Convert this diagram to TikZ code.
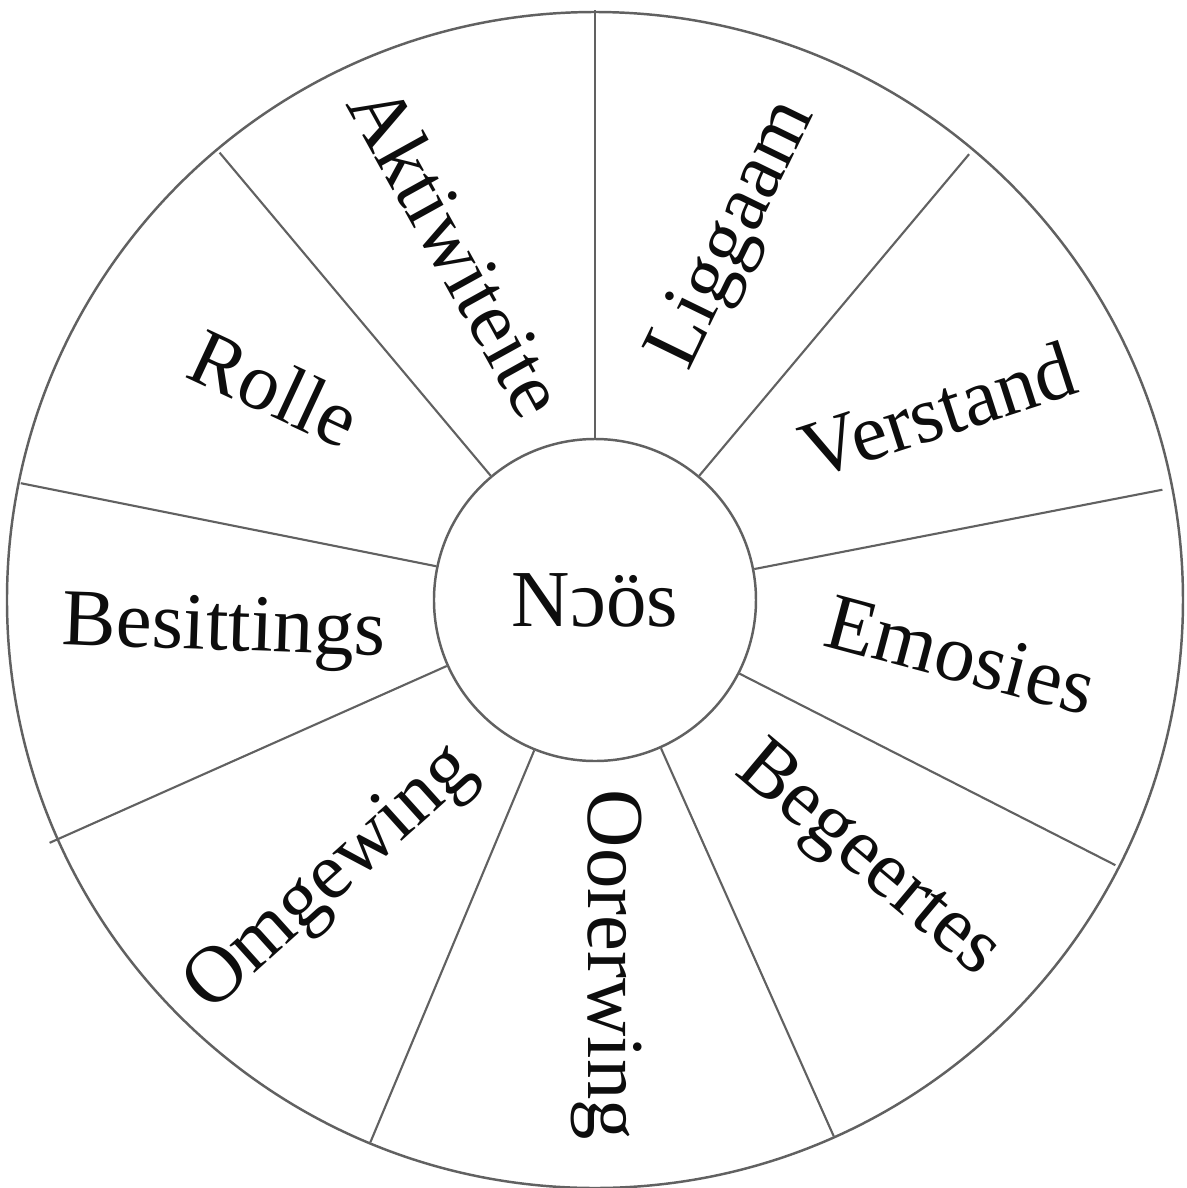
\documentclass[tikz,border=0pt]{standalone}
\usepackage{fontspec}
\setmainfont{Liberation Serif}
\usetikzlibrary{positioning}

\begin{document}
\begin{tikzpicture}[
    spoke/.style={draw=black!62, line width=0.6pt},
    rim/.style={draw=black!62, line width=0.7pt},
    sector/.style={font=\fontsize{23}{27}\selectfont, text=black!95, inner sep=0pt},
    every node/.style={text centered}
]

\useasboundingbox[fill=white] (-5.95,-5.88) rectangle (5.92,6.00);

% wheel
\draw[rim] (0,0) circle (5.88);
\node[rim, circle, minimum size=3.22cm, sector] (noos) at (0,0) {Nɔös};

% spokes: angle / outer radius
\foreach \a/\r in {90/5.90, 50/5.82, 11/5.78, -27/5.84, -66/5.87,
                   -112.5/5.87, 204/5.97, 168.5/5.86, 130/5.84}
    \draw[spoke] (noos.\a) -- (\a:\r);

% labels
\node[sector, rotate=-61] (aktiwiteite) at (-1.37,3.50) {Aktiwiteite};
\node[sector, rotate=64]  (liggaam)     at (1.40,3.65)  {Liggaam};
\node[sector, rotate=18]  (verstand)    at (3.43,1.90)  {Verstand};
\node[sector, rotate=-15] (emosies)     at (3.66,-0.55) {Emosies};
\node[sector, rotate=-40] (begeertes)   at (2.72,-2.62) {Begeertes};
\node[sector, rotate=-90] (oorerwing)   at (0.12,-3.65) {Oorerwing};
\node[sector, rotate=42]  (omgewing)    at (-2.63,-2.80) {Omgewing};
\node[sector, rotate=-2]  (besittings)  at (-3.71,-0.32) {Besittings};
\node[sector, rotate=-25] (rolle)       at (-3.20,2.12) {Rolle};

\end{tikzpicture}
\end{document}
